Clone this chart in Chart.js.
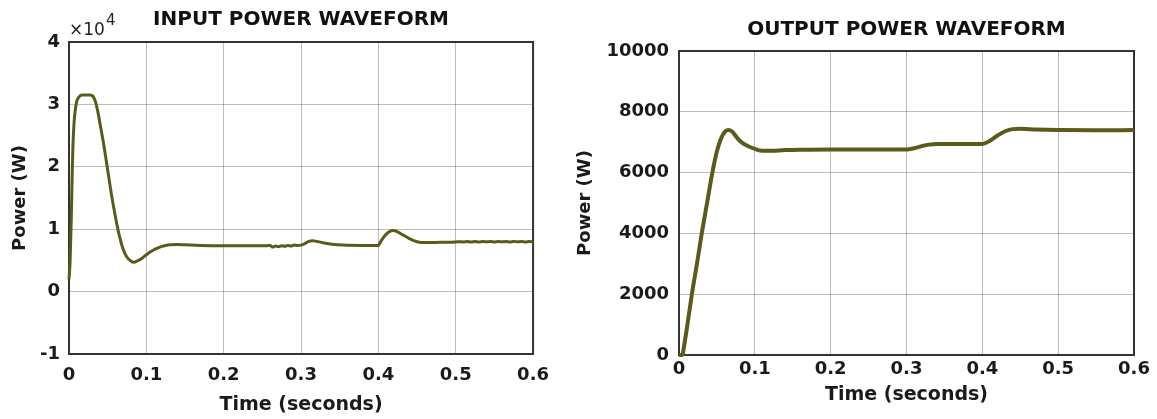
<!DOCTYPE html>
<html>
<head>
<meta charset="utf-8">
<script src="https://cdn.jsdelivr.net/npm/chart.js@4.4.1/dist/chart.umd.min.js"></script>
<style>
  html, body { margin: 0; padding: 0; background: #fff; }
  body { width: 1157px; height: 419px; position: relative; overflow: hidden; }
  .panel { position: absolute; top: 0; height: 419px; }
  #leftPanel { left: 0; width: 560px; }
  #rightPanel { left: 560px; width: 597px; }
</style>
</head>
<body>
<div class="panel" id="leftPanel"><canvas id="inputChart"></canvas></div>
<div class="panel" id="rightPanel"><canvas id="outputChart"></canvas></div>
<script>
  // input power (W) against time (s)
  const inputTime = [
    0, 0.0015, 0.003, 0.004, 0.005, 0.0065, 0.008, 0.010, 0.013, 0.017,
    0.021, 0.027, 0.031, 0.034, 0.037, 0.040, 0.045, 0.050, 0.055, 0.060,
    0.065, 0.070, 0.075, 0.080, 0.084, 0.088, 0.095, 0.100, 0.107, 0.115,
    0.122, 0.130, 0.140, 0.150, 0.170, 0.200, 0.230, 0.255, 0.260, 0.263,
    0.267, 0.271, 0.275, 0.279, 0.283, 0.287, 0.291, 0.295, 0.300, 0.305,
    0.310, 0.315, 0.320, 0.330, 0.340, 0.355, 0.380, 0.400, 0.403, 0.408,
    0.413, 0.418, 0.423, 0.430, 0.440, 0.450, 0.460, 0.480, 0.500, 0.505,
    0.510, 0.515, 0.520, 0.525, 0.530, 0.535, 0.540, 0.545, 0.550, 0.555,
    0.560, 0.565, 0.570, 0.575, 0.580, 0.585, 0.590, 0.595, 0.600
  ];
  const inputPower = [
    2000, 5000, 12000, 18000, 23000, 27000, 29000, 30500, 31200, 31500,
    31500, 31500, 31300, 30500, 29000, 27000, 23500, 19500, 15500, 12000,
    9000, 6800, 5500, 4900, 4700, 4900, 5400, 5900, 6500, 7000,
    7300, 7500, 7550, 7500, 7400, 7350, 7350, 7350, 7400, 7150,
    7300, 7200, 7350, 7250, 7400, 7300, 7450, 7400, 7450, 7700,
    8050, 8150, 8050, 7800, 7600, 7450, 7400, 7400, 8000, 8900,
    9500, 9800, 9700, 9200, 8500, 8000, 7850, 7900, 7950, 8000,
    7950, 8020, 7960, 8040, 7950, 8010, 7980, 8040, 7960, 8030,
    7980, 8020, 7960, 8040, 7980, 8010, 7960, 8020, 8000
  ];

  // output power (W) against time (s)
  const outputTime = [
    0, 0.004, 0.008, 0.012, 0.017, 0.024, 0.030, 0.037, 0.044, 0.050,
    0.055, 0.060, 0.065, 0.070, 0.075, 0.080, 0.090, 0.100, 0.110, 0.120,
    0.140, 0.160, 0.200, 0.250, 0.300, 0.310, 0.320, 0.330, 0.340, 0.370,
    0.400, 0.410, 0.420, 0.430, 0.440, 0.450, 0.470, 0.500, 0.550, 0.600
  ];
  const outputPower = [
    0, 0, 500, 1150, 2000, 3050, 4000, 5000, 6000, 6700,
    7100, 7330, 7400, 7350, 7200, 7050, 6880, 6780, 6720, 6720,
    6740, 6750, 6760, 6760, 6760, 6800, 6870, 6920, 6940, 6940,
    6940, 7050, 7220, 7360, 7430, 7440, 7420, 7400, 7390, 7400
  ];

  const timeTicks = [0, 0.1, 0.2, 0.3, 0.4, 0.5, 0.6];

  Chart.defaults.font.family = "'DejaVu Sans', Verdana, sans-serif";
  Chart.defaults.color = "#1a1a1a";

  const LINE = "#5a5a1a";
  const GRID = "rgba(0,0,0,0.26)";

  function points(xs, ys) {
    return xs.map((t, i) => ({ x: t, y: ys[i] }));
  }

  // box round the plot area, matlab style
  const framePlugin = {
    id: "frame",
    beforeDatasetsDraw(chart) {
      const { ctx, chartArea: a } = chart;
      ctx.save();
      ctx.strokeStyle = "#333";
      ctx.lineWidth = 2;
      ctx.strokeRect(a.left, a.top, a.right - a.left, a.bottom - a.top);
      ctx.restore();
    }
  };

  // "x10^4" multiplier above the y axis
  const exponentPlugin = {
    id: "exponent",
    afterDraw(chart, args, opts) {
      if (!opts.text) return;
      const { ctx, chartArea: a } = chart;
      ctx.save();
      ctx.fillStyle = "#222";
      ctx.textBaseline = "alphabetic";
      ctx.font = "17px 'DejaVu Sans'";
      ctx.fillText(opts.text, a.left, a.top - 7);
      const w = ctx.measureText(opts.text).width;
      ctx.font = "15px 'DejaVu Sans'";
      ctx.fillText(opts.power, a.left + w + 1, a.top - 17);
      ctx.restore();
    }
  };

  function makeChart(id, cfg) {
    return new Chart(document.getElementById(id), {
      type: "line",
      data: {
        datasets: [{
          data: points(cfg.time, cfg.power),
          borderColor: LINE,
          borderWidth: cfg.lineWidth,
          pointRadius: 0,
          cubicInterpolationMode: "monotone",
          clip: 4
        }]
      },
      options: {
        responsive: true,
        maintainAspectRatio: false,
        animation: false,
        layout: { padding: { left: 0, right: cfg.padRight, top: 0, bottom: 0 } },
        plugins: {
          legend: { display: false },
          tooltip: { enabled: false },
          title: {
            display: true,
            text: cfg.title,
            fullSize: false,
            color: "#111",
            font: { size: 20, weight: "bold" },
            padding: cfg.titlePad
          },
          exponent: cfg.exponent || {}
        },
        scales: {
          x: {
            type: "linear",
            min: 0,
            max: 0.6,
            afterBuildTicks: s => { s.ticks = timeTicks.map(v => ({ value: v })); },
            afterFit: s => { s.height = cfg.xHeight; },
            ticks: {
              padding: cfg.xTickPad,
              font: { size: 18, weight: "bold" },
              callback: v => (v === 0 ? "0" : v.toFixed(1))
            },
            grid: { color: GRID, drawTicks: false },
            border: { display: false },
            title: {
              display: true,
              text: "Time (seconds)",
              font: { size: 19, weight: "bold" },
              padding: { top: 0, bottom: cfg.xTitlePad }
            }
          },
          y: {
            min: cfg.yMin,
            max: cfg.yMax,
            afterFit: s => { s.width = cfg.yWidth; },
            ticks: {
              stepSize: cfg.yStep,
              padding: cfg.yTickPad,
              font: { size: 18, weight: "bold" },
              callback: cfg.yLabel
            },
            grid: { color: GRID, drawTicks: false },
            border: { display: false },
            title: {
              display: true,
              text: "Power (W)",
              font: { size: 18, weight: "bold" },
              padding: { top: cfg.yTitlePad, bottom: 0 }
            }
          }
        }
      },
      plugins: [framePlugin, exponentPlugin]
    });
  }

  makeChart("inputChart", {
    title: "INPUT POWER WAVEFORM",
    time: inputTime,
    power: inputPower,
    lineWidth: 3,
    yMin: -10000,
    yMax: 40000,
    yStep: 10000,
    yLabel: v => String(v / 10000),
    exponent: { text: "\u00d710", power: "4" },
    padRight: 26,
    titlePad: { top: 8, bottom: 10 },
    yWidth: 69,
    xHeight: 65,
    xTickPad: 11,
    yTickPad: 9,
    xTitlePad: 3,
    yTitlePad: 10
  });

  makeChart("outputChart", {
    title: "OUTPUT POWER WAVEFORM",
    time: outputTime,
    power: outputPower,
    lineWidth: 4,
    yMin: 0,
    yMax: 10000,
    yStep: 2000,
    yLabel: v => String(v),
    padRight: 23,
    titlePad: { top: 18, bottom: 9 },
    yWidth: 119,
    xHeight: 64,
    xTickPad: 4,
    yTickPad: 10,
    xTitlePad: 13,
    yTitlePad: 15
  });
</script>
</body>
</html>
